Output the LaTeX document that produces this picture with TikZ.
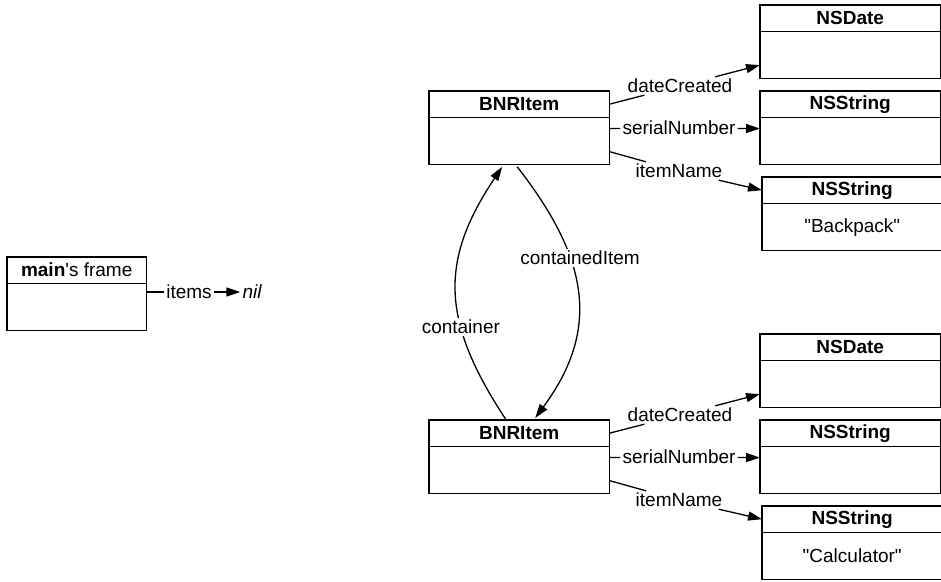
\documentclass[tikz,border=0pt]{standalone}
\usepackage{fontspec}
\setmainfont{Liberation Sans}[Ligatures=TeXOff]
\usetikzlibrary{arrows.meta,calc}

% an object: title row over an empty or labelled body
% #1 width, #2 name, #3 x, #4 y (top left), #5 title, #6 body text
\newcommand\objbox[6][180]{%
  \node[hdr, minimum width=#1pt] (#2h) at (#3,#4) {#5};
  \node[bdy, minimum width=#1pt] (#2) at (#2h.south) {#6};
  \draw[frame] (#2h.north west) rectangle (#2.south east);
  \draw[divider] (#2h.south west) -- (#2h.south east);
}

\begin{document}
\begin{tikzpicture}[x=1pt,y=-1pt,
  font=\fontsize{19}{23}\selectfont,
  hdr/.style={minimum height=26pt, inner sep=0pt, anchor=north west, font=\fontsize{19}{23}\selectfont\bfseries},
  bdy/.style={minimum height=47pt, inner sep=0pt, anchor=north},
  frame/.style={line width=1.3pt},
  divider/.style={line width=1.0pt},
  lbl/.style={inner sep=2pt},
  ref/.style={-{Triangle[length=14pt,width=9pt]}},
  link/.style={line width=1.3pt},
]
\useasboundingbox (0,0) rectangle (941,581);

% main's frame
\objbox[139]{m}{7}{257}{\mdseries\textbf{main}'s frame}{}
\node[lbl] (items) at (189,292) {items};
\node[lbl] (nil) at (252,292) {\itshape nil};
\draw[link] (mh.east |- items) -- (items);
\draw[link, ref] (items) -- (nil);

% first BNRItem and its objects
\objbox{b1}{429}{91}{BNRItem}{}
\objbox{d1}{760}{5}{NSDate}{}
\objbox{s1}{760}{91}{NSString}{}
\objbox{n1}{762}{177}{NSString}{"Backpack"}

\node[lbl] (dc1) at (680,86) {dateCreated};
\node[lbl] (sn1) at (679,128) {serialNumber};
\node[lbl] (in1) at (679,171) {itemName};
\draw[link] (b1h.east) -- (dc1);
\draw[link, ref] (dc1) -- ($(d1.west)+(0,10)$);
\draw[link] ($(b1.east)+(0,-12.5)$) -- (sn1);
\draw[link, ref] (sn1) -- ($(s1.west)+(0,-12.5)$);
\draw[link] ($(b1.east)+(0,10.5)$) -- (in1);
\draw[link, ref] (in1) -- (n1h.west);

% second BNRItem and its objects
\objbox{b2}{429}{420}{BNRItem}{}
\objbox{d2}{760}{334}{NSDate}{}
\objbox{s2}{760}{420}{NSString}{}
\objbox{n2}{762}{506}{NSString}{"Calculator"}

\node[lbl] (dc2) at (680,415) {dateCreated};
\node[lbl] (sn2) at (679,457) {serialNumber};
\node[lbl] (in2) at (679,500) {itemName};
\draw[link] (b2h.east) -- (dc2);
\draw[link, ref] (dc2) -- ($(d2.west)+(0,10)$);
\draw[link] ($(b2.east)+(0,-12.5)$) -- (sn2);
\draw[link, ref] (sn2) -- ($(s2.west)+(0,-12.5)$);
\draw[link] ($(b2.east)+(0,10.5)$) -- (in2);
\draw[link, ref] (in2) -- (n2h.west);

% links between the two items
\draw[link, ref] ($(b2h.north)+(-13,0)$)
  .. controls (440,320) and (440,260) .. ($(b1.south)+(-17,2)$)
  node[pos=0.35, fill=white, inner sep=2pt] (cont) {container};
\draw[link, ref] ($(b1.south)+(-2,2)$)
  .. controls (590,260) and (600,330) .. ($(b2h.north)+(16,-2)$)
  node[pos=0.35, xshift=10pt, fill=white, inner sep=2pt] (cinm) {containedItem};
\end{tikzpicture}
\end{document}
